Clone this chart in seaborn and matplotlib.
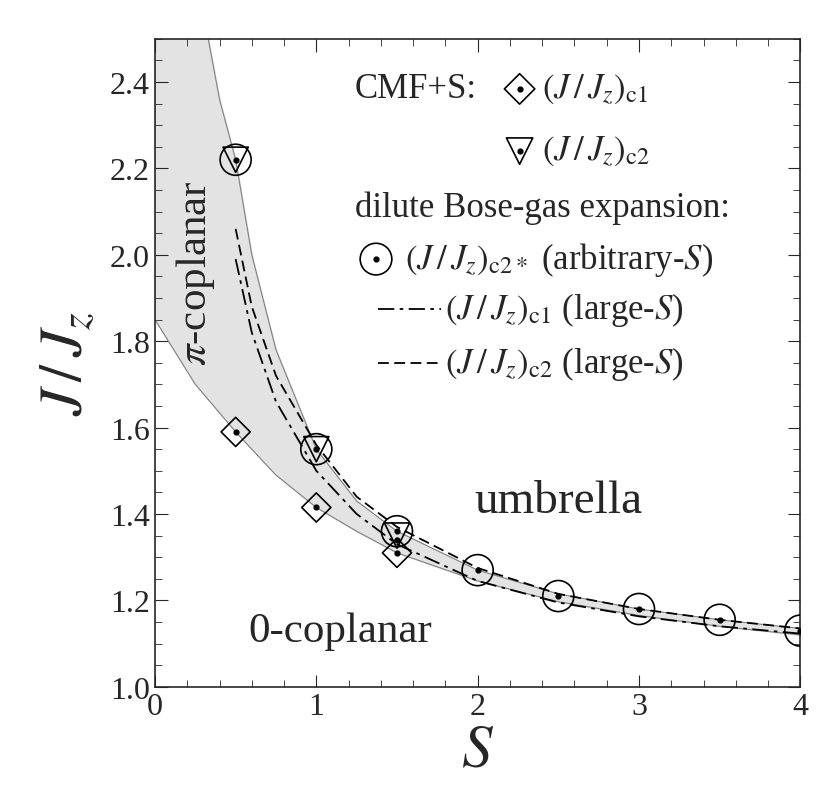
import numpy as np
import seaborn as sns
import matplotlib.pyplot as plt
from matplotlib.ticker import MultipleLocator

# CMF+S data
s_pts = [0.5, 1.0, 1.5]
jc1_cmf = [1.59, 1.415, 1.31]
jc2_cmf = [2.22, 1.55, 1.35]
# dilute Bose-gas, arbitrary S
s_bose = [0.5, 1.0, 1.5, 2.0, 2.5, 3.0, 3.5, 4.0]
jc2_star = [2.22, 1.55, 1.36, 1.27, 1.21, 1.18, 1.155, 1.13]
# region boundaries (thin solid)
s_low = [0, 0.25, 0.5, 0.75, 1.0, 1.25, 1.5, 2.0, 2.5, 3.0, 3.5, 4.0]
j_low = [1.85, 1.70, 1.59, 1.49, 1.415, 1.36, 1.31, 1.245, 1.197, 1.165, 1.14, 1.12]
s_up = [0.33, 0.4, 0.5, 0.6, 0.75, 1.0, 1.25, 1.5, 2.0, 2.5, 3.0, 3.5, 4.0]
j_up = [2.5, 2.36, 2.22, 2.00, 1.78, 1.55, 1.43, 1.36, 1.27, 1.215, 1.18, 1.155, 1.135]
# large-S expansions
s_large = [0.5, 0.6, 0.75, 1.0, 1.25, 1.5, 2.0, 2.5, 3.0, 3.5, 4.0]
jc1_large = [1.99, 1.82, 1.66, 1.50, 1.40, 1.33, 1.245, 1.195, 1.163, 1.14, 1.123]
jc2_large = [2.06, 1.88, 1.72, 1.56, 1.44, 1.37, 1.275, 1.215, 1.18, 1.155, 1.135]

sns.set_style("ticks")
plt.rcParams['font.family'] = ['Liberation Serif', 'DejaVu Serif']
plt.rcParams['mathtext.fontset'] = 'stix'

fig = plt.figure(figsize=(8.2, 8.12), dpi=100)
ax = fig.add_axes([0.189, 0.153, 0.787, 0.798])

# shaded band between the two boundary curves
s_fill = np.linspace(0.33, 4, 200)
ax.fill_between(s_fill, np.interp(s_fill, s_low, j_low), np.interp(s_fill, s_up, j_up),
                color="#e3e3e3", zorder=0)
s_fill0 = np.linspace(0, 0.33, 30)
ax.fill_between(s_fill0, np.interp(s_fill0, s_low, j_low), 2.5, color="#e3e3e3", zorder=0)
sns.lineplot(x=s_low, y=j_low, ax=ax, color="gray", lw=0.8)
sns.lineplot(x=s_up, y=j_up, ax=ax, color="gray", lw=0.8)
ax.plot(s_large, jc1_large, color="black", lw=1.3, ls=(0, (9, 3, 2, 3)))
ax.plot(s_large, jc2_large, color="black", lw=1.3, ls=(0, (6, 3)))

ax.scatter(s_pts, jc1_cmf, marker="D", s=220, facecolors="none", edgecolors="black", lw=1.2, zorder=4)
ax.scatter(s_pts, jc2_cmf, marker="v", s=330, facecolors="none", edgecolors="black", lw=1.2, zorder=4)
ax.scatter(s_bose, jc2_star, marker="o", s=500, facecolors="none", edgecolors="black", lw=1.2, zorder=4)
ax.scatter(s_pts + s_bose, jc1_cmf + jc2_star, s=12, color="black", zorder=5)
ax.scatter([1.5], [1.34], s=12, color="black", zorder=5)

ax.set_xlim(0, 4)
ax.set_ylim(1.0, 2.5)
ax.xaxis.set_major_locator(MultipleLocator(1))
ax.xaxis.set_minor_locator(MultipleLocator(0.2))
ax.yaxis.set_minor_locator(MultipleLocator(0.05))
ax.set_yticks([1.0, 1.2, 1.4, 1.6, 1.8, 2.0, 2.2, 2.4])
ax.tick_params(which="both", direction="in", top=True, right=True, labelsize=23)
ax.tick_params(which="major", length=9)
ax.tick_params(which="minor", length=5)
for sp in ax.spines.values():
    sp.set_linewidth(1.2)
ax.set_xlabel("$S$", fontsize=44, labelpad=2)
ax.set_ylabel("$J\\,/\\,J_z$", fontsize=44, labelpad=10)

ax.text(0.25, 1.96, "$\\pi$-coplanar", rotation=90, fontsize=31, ha="center", va="center")
ax.text(2.5, 1.43, "umbrella", fontsize=34, ha="center", va="center")
ax.text(1.15, 1.13, "0-coplanar", fontsize=31, ha="center", va="center")

# legend drawn by hand
fs = 25
ax.text(1.24, 2.384, "CMF+S:", fontsize=fs, va="center")
ax.scatter([2.26], [2.384], marker="D", s=240, facecolors="none", edgecolors="black", lw=1.2)
ax.scatter([2.26], [2.384], s=12, color="black")
ax.text(2.4, 2.384, "$(J\\,/\\,J_z)_{\\rm c1}$", fontsize=fs, va="center")
ax.scatter([2.26], [2.24], marker="v", s=360, facecolors="none", edgecolors="black", lw=1.2)
ax.scatter([2.26], [2.24], s=12, color="black")
ax.text(2.4, 2.24, "$(J\\,/\\,J_z)_{\\rm c2}$", fontsize=fs, va="center")
ax.text(1.24, 2.11, "dilute Bose-gas expansion:", fontsize=fs, va="center")
ax.scatter([1.37], [1.99], marker="o", s=520, facecolors="none", edgecolors="black", lw=1.2)
ax.scatter([1.37], [1.99], s=12, color="black")
ax.text(1.55, 1.99, "$(J\\,/\\,J_z)_{\\rm c2*}$ (arbitrary-$S$)", fontsize=fs, va="center")
ax.plot([1.38, 1.77], [1.875, 1.875], color="black", lw=1.3, ls=(0, (9, 3, 2, 3)))
ax.text(1.8, 1.875, "$(J\\,/\\,J_z)_{\\rm c1}$ (large-$S$)", fontsize=fs, va="center")
ax.plot([1.38, 1.77], [1.75, 1.75], color="black", lw=1.3, ls=(0, (6, 3)))
ax.text(1.8, 1.75, "$(J\\,/\\,J_z)_{\\rm c2}$ (large-$S$)", fontsize=fs, va="center")

fig.savefig("out.png", dpi=100)
